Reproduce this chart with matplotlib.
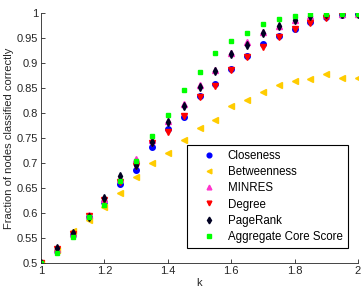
import matplotlib
matplotlib.use('Agg')
import matplotlib.pyplot as plt

plt.rcParams['font.family'] = ['Liberation Sans', 'DejaVu Sans']
plt.rcParams['font.size'] = 8

k = [1.0, 1.05, 1.1, 1.15, 1.2, 1.25, 1.3, 1.35, 1.4, 1.45, 1.5,
     1.55, 1.6, 1.65, 1.7, 1.75, 1.8, 1.85, 1.9, 1.95, 2.0]

closeness = [0.5, 0.524, 0.557, 0.592, 0.623, 0.658, 0.686, 0.732, 0.769, 0.793, 0.834,
             0.858, 0.889, 0.915, 0.939, 0.955, 0.969, 0.982, 0.992, 0.997, 0.999]
betweenness = [0.5, 0.527, 0.564, 0.587, 0.612, 0.641, 0.673, 0.701, 0.721, 0.746, 0.770,
               0.786, 0.814, 0.827, 0.842, 0.857, 0.865, 0.868, 0.878, 0.871, 0.871]
minres = [0.5, 0.529, 0.560, 0.596, 0.628, 0.668, 0.708, 0.746, 0.784, 0.818, 0.856,
          0.887, 0.920, 0.942, 0.962, 0.975, 0.987, 0.995, 0.997, 0.999, 0.999]
degree = [0.5, 0.528, 0.558, 0.595, 0.626, 0.662, 0.694, 0.740, 0.762, 0.794, 0.833,
          0.855, 0.886, 0.913, 0.932, 0.953, 0.968, 0.981, 0.991, 0.997, 0.999]
pagerank = [0.5, 0.531, 0.561, 0.592, 0.631, 0.674, 0.696, 0.743, 0.782, 0.815, 0.853,
            0.885, 0.918, 0.937, 0.961, 0.974, 0.986, 0.994, 0.998, 0.999, 0.999]
aggregate = [0.5, 0.520, 0.553, 0.593, 0.616, 0.664, 0.704, 0.754, 0.797, 0.846, 0.883,
             0.921, 0.945, 0.961, 0.978, 0.988, 0.995, 0.998, 0.999, 0.999, 0.999]

fig = plt.figure(figsize=(3.64, 2.88), dpi=100)
ax = fig.add_axes([41 / 364, 25 / 288, 317 / 364, 250 / 288])

ms = 4
ax.plot(k, closeness, 'o', color='#0000ff', markersize=ms, label='Closeness')
ax.plot(k, betweenness, '<', color='#ffcc00', markersize=ms, label='Betweenness')
ax.plot(k, minres, '^', color='#ff33cc', markersize=ms, label='MINRES')
ax.plot(k, degree, 'v', color='#ff0000', markersize=ms, label='Degree')
ax.plot(k, pagerank, 'd', color='#000022', markersize=ms, label='PageRank')
ax.plot(k, aggregate, 's', color='#00ff00', markersize=ms - 0.5, label='Aggregate Core Score')

ax.set_xlim(1, 2)
ax.set_ylim(0.5, 1)
ax.set_xticks([1, 1.2, 1.4, 1.6, 1.8, 2])
ax.set_xticklabels(['1', '1.2', '1.4', '1.6', '1.8', '2'])
ax.set_yticks([0.5, 0.55, 0.6, 0.65, 0.7, 0.75, 0.8, 0.85, 0.9, 0.95, 1])
ax.set_yticklabels(['0.5', '0.55', '0.6', '0.65', '0.7', '0.75', '0.8', '0.85', '0.9', '0.95', '1'])
ax.tick_params(direction='in', length=3, width=0.6, pad=2, colors='#262626')
for side in ['top', 'right']:
    ax.spines[side].set_visible(False)
for side in ['left', 'bottom']:
    ax.spines[side].set_linewidth(0.6)
    ax.spines[side].set_color('#262626')

ax.set_xlabel('k', labelpad=1.5, color='#262626')
ax.set_ylabel('Fraction of nodes classified correctly', labelpad=2, color='#262626')

leg = ax.legend(loc='lower right', bbox_to_anchor=(0.968, 0.06), borderaxespad=0,
                fontsize=8.3, frameon=True, fancybox=False, edgecolor='black',
                framealpha=1, borderpad=0.45, labelspacing=0.36, handlelength=2.8,
                handletextpad=0.25, numpoints=1, markerscale=0.85)
leg.get_frame().set_linewidth(0.8)

fig.savefig('out.png', dpi=100)
